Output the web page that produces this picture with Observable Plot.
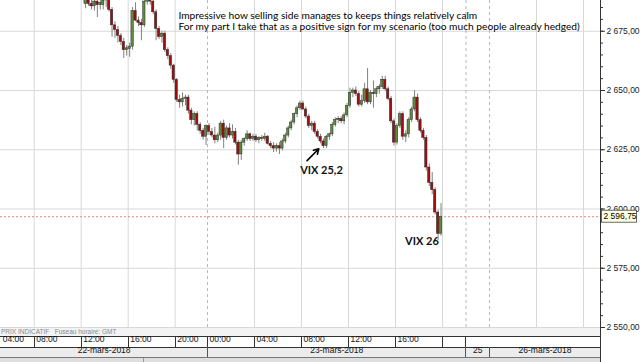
<!DOCTYPE html>
<html><head><meta charset="utf-8">
<script src="https://cdn.jsdelivr.net/npm/d3@7"></script>
<script src="https://cdn.jsdelivr.net/npm/@observablehq/plot@0.6"></script>
<style>body{margin:0;background:#fff;}</style>
</head><body><div id="chart"></div>
<script>
// 15-minute candles, slot 0 = 23-mars-2018 00:00
const firstSlot = -42;
const open = [2686.5,2688.5,2686.5,2685.5,2687.5,2686,2686,2688,2688.5,2684,2677.5,2675.5,2673,2670.5,2667,2667.5,2668.5,2683.5,2679.5,2678.5,2677.5,2687.5,2688.5,2687.5,2683,2676,2672.5,2674,2667,2664.5,2660.5,2654.5,2646,2645,2646.5,2647,2641.5,2637.5,2640,2635.5,2633,2630.5,
2635,2632.5,2631,2629,2631,2636,2630,2634,2631,2632.5,2628,2623,2628,2629.5,2631.5,2629.5,2630.5,2629,2630,2629.5,2630.5,2627.5,2626.5,2625.5,2626.5,2625.5,2628.5,2631,2634,2636.5,2640,2642.5,2644.5,2642,2639,2635,2636,2632.5,2630.5,2628.5,2626.5,2630.5,2631.5,2635.5,2637.5,2638,2637,2639.5,2643.5,2649,2650,2648.5,2644,2645.5,2650.5,2645,2649,2648.5,2650.5,2651.5,2654.5,2650.5,2646.5,2637,2628,2635,2640,2630.5,2631.5,2637.5,2642,2647,2637.5,2633,2630,2617.5,2611,2608,2598.5,2589.5];
const high = [2690,2691,2689,2689,2690,2689,2690,2691,2690,2685,2679,2677,2674,2672,2669,2670,2685,2687,2681,2680,2689,2692,2691,2689,2684,2677,2675,2675,2668,2665.5,2661,2655,2648,2649,2648,2648,2642.5,2641,2641,2636.5,2634,2635.5,
2636,2634,2634.5,2632,2637,2637.5,2635,2636,2635.5,2634,2629,2629,2630,2633,2632,2631.5,2631.5,2630.5,2631,2632,2631,2628.5,2628,2627.5,2628,2629.5,2632,2635,2637.5,2640.5,2643.5,2645.5,2645.5,2643,2640,2637,2637,2633.5,2631.5,2629.5,2631,2632,2636.5,2638.5,2639,2639,2640.5,2644.5,2651,2651,2651.5,2649.5,2648,2653,2659.3,2650,2654,2651.5,2652.5,2656,2656,2651.5,2647.5,2638,2636,2641,2641,2633,2638.5,2643,2650,2648.5,2638.5,2634,2631,2619,2615.4,2609,2599.5,2602.3];
const low = [2684.5,2685.5,2684,2683.5,2680.8,2684,2684,2685,2683,2672.5,2672,2670,2669,2663.5,2664.5,2664,2667,2679,2677,2671,2676.5,2686,2686,2682,2671,2671.5,2670,2666,2663,2659,2653,2645,2642.5,2643,2643.5,2640,2635.5,2635,2633,2631.5,2629,2626.8,
2631,2630,2627.5,2628,2629,2625.5,2629,2630,2629.5,2627,2618.5,2620.5,2626.5,2628.5,2628.5,2628.5,2628,2627.5,2628.5,2628.5,2627,2625.5,2623.8,2624,2623,2624.5,2627.5,2630,2633,2635.5,2638.5,2641.5,2641.5,2638,2634,2633,2631.5,2629.5,2627.5,2625.5,2625.5,2629,2630.5,2634.5,2636,2636,2635.5,2638.5,2642.5,2647,2647.5,2643,2643,2644.5,2644,2644,2642.5,2647,2648.5,2650.5,2649.5,2645.5,2636,2626.5,2627,2634,2629,2628,2630,2636.5,2641,2636.5,2632,2629,2616,2609.5,2606,2597.5,2586.7,2588.5];
const close = [2688.5,2686.5,2685.5,2687.5,2686,2687,2688,2688.5,2684,2677.5,2675.5,2673,2670.5,2667,2667.8,2668.5,2683.5,2679.5,2678.5,2677.5,2687.5,2688.5,2687.5,2683,2676,2672.5,2674,2667,2664.5,2660.5,2654.5,2646,2645,2646.5,2647,2641.5,2637.5,2640,2635.5,2633,2630.5,2635,
2632.5,2631,2629,2631,2636,2630,2634,2631,2632.5,2628,2623,2628,2629.5,2631.5,2629.5,2630.5,2629,2630,2629.5,2630.5,2627.5,2626.5,2625.5,2626.5,2625.5,2628.5,2631,2634,2636.5,2640,2642.5,2644.5,2642,2639,2635,2636,2632.5,2630.5,2628.5,2626.5,2630.5,2631.5,2635.5,2637.5,2638,2637,2639.5,2643.5,2649,2650,2648.5,2644,2645.5,2650.5,2645,2649,2648.5,2650.5,2651.5,2654.5,2650.5,2646.5,2637,2628,2635,2640,2630.5,2631.5,2637.5,2642,2647,2637.5,2633,2630,2617.5,2611,2608,2598.5,2589.5,2596.75];

const priceTicks = [2550, 2575, 2600, 2625, 2650, 2675];
const minorTicks = d3.range(2550, 2690, 5);
const timeSlots = [-70.4, -59, -43, -27, -11, 0, 16, 32, 48, 64];
const timeLabels = ["04:00","08:00","12:00","16:00","20:00","00:00","04:00","08:00","12:00","16:00"];
const timeBorders = [-59, -43, -27, -11, 0, 16, 32, 48, 64, 80, 88];
const gridSlots = [-59, -43, -27, -11, 16, 32, 48, 64, 80, 112, 128];
const dayBreaks = [0, 88, 96];
const dayLabels = ["22-mars-2018", "23-mars-2018", "25", "26-mars-2018"];
const dayCenters = [-35.2, 44, 92, 114.9];
const lastPrice = 2596.75;
const footerText = "PRIX INDICATIF   Fuseau horaire: GMT";
const xDomain = [-70.47, 133.79];
const yDomain = [2550, 2687.97];

const noteText = ["Impressive how selling side manages to keeps things relatively calm",
                  "For my part I take that as a positive sign for my scenario (too much people already hedged)"];
const noteSlot = [-9.9, -9.9];
const notePrice = [2681.6, 2677.0];
const vixText = ["VIX 25,2", "VIX 26"];
const vixSlot = [38.8, 73.0];
const vixPrice = [2616.3, 2586.1];
const arrowFrom = [33.9, 2620.4];
const arrowTo = [37.9, 2625.4];

const candles = close.map((c, i) => ({k: firstSlot + i, o: open[i], h: high[i], l: low[i], c}));
const fr = d3.formatLocale({decimal: ",", thousands: "\u00a0", grouping: [3], currency: ["", ""]}).format(",.2f");

function frameMark(index, {x, y}, values, dims) {
  const g = d3.create("svg:g").attr("text-anchor", "start");
  const W = dims.width - dims.marginRight;
  const yb = dims.height - dims.marginBottom;
  const H = dims.height;
  g.append("rect").attr("x", 0).attr("y", yb).attr("width", W).attr("height", 9).attr("fill", "#f3f3f3");
  g.append("rect").attr("x", 0).attr("y", yb + 9).attr("width", W).attr("height", 11).attr("fill", "#fff");
  g.append("rect").attr("x", 0).attr("y", yb + 20).attr("width", W).attr("height", 10).attr("fill", "#ececec");
  g.append("rect").attr("x", 0).attr("y", yb + 30).attr("width", W).attr("height", H - yb - 30).attr("fill", "#dedede");
  g.append("line").attr("x1", 143.5).attr("x2", 143.5).attr("y1", yb + 30).attr("y2", H).attr("stroke", "#999");
  g.append("text").attr("x", 1).attr("y", yb + 7).attr("font-size", 6.5).attr("fill", "#888")
    .attr("font-family", "Liberation Sans").style("white-space", "pre").text(footerText);
  for (const yy of [yb + 9, yb + 20]) g.append("line").attr("x1", 0).attr("x2", W).attr("y1", yy + 0.5).attr("y2", yy + 0.5).attr("stroke", "#333");
  g.append("line").attr("x1", 0).attr("x2", W).attr("y1", yb + 30.5).attr("y2", yb + 30.5).attr("stroke", "#777");
  for (const s of timeBorders) {
    const px = Math.round(x(s)) + 0.5;
    g.append("line").attr("x1", px).attr("x2", px).attr("y1", yb + 9).attr("y2", yb + 20).attr("stroke", "#333");
  }
  for (const s of dayBreaks) {
    const px = Math.round(x(s)) + 0.5;
    g.append("line").attr("x1", px).attr("x2", px).attr("y1", yb + 20).attr("y2", yb + 30).attr("stroke", "#555");
  }
  g.append("line").attr("x1", W + 0.5).attr("x2", W + 0.5).attr("y1", 0).attr("y2", H).attr("stroke", "#333");
  return g.node();
}

function lastPriceBox(index, {y}, values, dims) {
  const g = d3.create("svg:g").attr("text-anchor", "start");
  const W = dims.width - dims.marginRight;
  const yl = y(lastPrice);
  g.append("rect").attr("x", W + 1.5).attr("y", yl - 6).attr("width", 35).attr("height", 12)
    .attr("fill", "#ffffe1").attr("stroke", "#444").attr("stroke-width", 0.8);
  g.append("text").attr("x", W + 3.5).attr("y", yl).attr("dy", "0.35em").attr("font-size", 8.5)
    .attr("font-family", "Liberation Sans").attr("fill", "#000").text(fr(lastPrice));
  return g.node();
}

const chart = Plot.plot({
  width: 640, height: 362,
  marginLeft: 0, marginRight: 40, marginTop: 0, marginBottom: 35,
  style: {fontFamily: "Liberation Sans", fontSize: "8.5px", background: "#fff", overflow: "hidden", color: "#222"},
  x: {type: "linear", domain: xDomain, axis: null},
  y: {domain: yDomain, axis: null},
  marks: [
    frameMark,
    Plot.gridY(priceTicks, {stroke: "#d8d8d8", strokeOpacity: 1}),
    Plot.gridX(gridSlots, {stroke: "#d8d8d8", strokeOpacity: 1}),
    Plot.gridX(dayBreaks, {stroke: "#b8b8b8", strokeOpacity: 1, strokeDasharray: "3,3"}),
    Plot.ruleY([lastPrice], {stroke: "#f08080", strokeDasharray: "2,2", strokeWidth: 1}),
    Plot.ruleX(candles, {x: d => d.k + 0.5, y1: "l", y2: "h", stroke: "#808080", strokeWidth: 1, clip: true}),
    Plot.rect(candles, {x1: d => d.k + 0.1, x2: d => d.k + 0.9, y1: "o", y2: "c",
      fill: d => d.c >= d.o ? "#5e8c3e" : "#a30c0c", stroke: "#2a2a2a", strokeWidth: 0.5, clip: true}),
    Plot.axisY(minorTicks, {anchor: "right", tickSize: 2, tickFormat: () => "", stroke: "#333", label: null}),
    Plot.axisY(priceTicks, {anchor: "right", tickSize: 4, tickPadding: 2, tickFormat: fr, stroke: "#333", fill: "#222", fontSize: 8.5, label: null}),
    lastPriceBox,
    Plot.text(timeLabels, {x: (d, i) => timeSlots[i], frameAnchor: "bottom", dy: 14.5, dx: 2, textAnchor: "start", fontSize: 8.5, fill: "#111"}),
    Plot.text(dayLabels, {x: (d, i) => dayCenters[i], frameAnchor: "bottom", dy: 25, textAnchor: "middle", fontSize: 8.5, fill: "#111"}),
    Plot.text(noteText, {x: (d, i) => noteSlot[i], y: (d, i) => notePrice[i], textAnchor: "start", fontFamily: "Lato", fontSize: 10.2, fill: "#000"}),
    Plot.text(vixText, {x: (d, i) => vixSlot[i], y: (d, i) => vixPrice[i], textAnchor: "middle", fontFamily: "Lato", fontWeight: "bold", fontSize: 11, fill: "#111"}),
    Plot.arrow([0], {x1: () => arrowFrom[0], y1: () => arrowFrom[1], x2: () => arrowTo[0], y2: () => arrowTo[1], stroke: "#000", strokeWidth: 1.6, headLength: 7})
  ]
});
document.getElementById("chart").appendChild(chart);
</script>
</body></html>
